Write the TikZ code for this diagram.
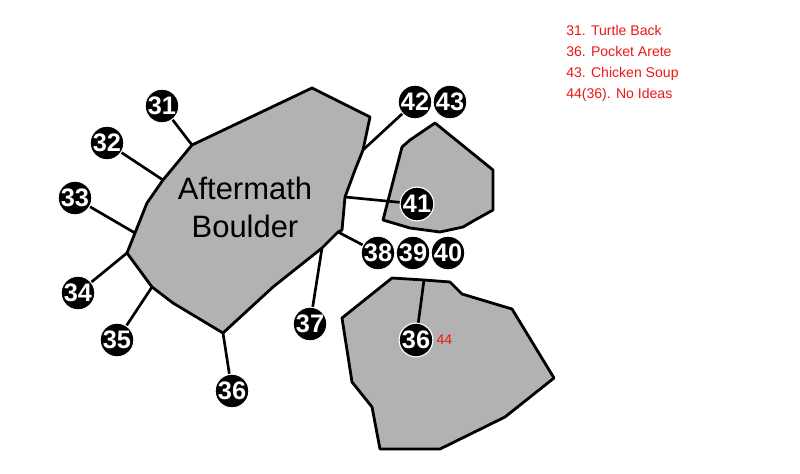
\documentclass[tikz,border=0pt]{standalone}
\usepackage{fontspec}
\setmainfont{Liberation Sans}
\usetikzlibrary{positioning}
\definecolor{rockgray}{RGB}{178,178,178}
\definecolor{notered}{RGB}{238,22,22}

\begin{document}
\begin{tikzpicture}[x=0.025cm, y=-0.025cm,
    rock/.style={draw=black, fill=rockgray, line width=2pt, line join=round},
    link/.style={draw=black, line width=1.9pt},
    prob/.style={circle, draw=white, line width=0.8pt, fill=black, text=white, inner sep=0pt, minimum size=24pt, font=\fontsize{18}{18}\selectfont\bfseries},
    note/.style={text=notered, font=\fontsize{10}{12}\selectfont, anchor=base west, inner sep=0pt}
]
    \useasboundingbox (0,0) rectangle (800,473);

    % Boulders
    \draw[rock] (192,145) coordinate (t31) -- (312,88) -- (370,117) -- (363,150) coordinate (t42)
        -- (355,170) -- (345,197) coordinate (t41) -- (342,230) -- (338,232) coordinate (t38)
        -- (322,248) coordinate (t37) -- (273,287) -- (223,333) coordinate (t36)
        -- (173,303) -- (152,287) coordinate (t35) -- (127,253) coordinate (t34)
        -- (135,233) coordinate (t33) -- (147,203) -- (163,180) coordinate (t32) -- cycle;
    \draw[rock] (435,123) -- (493,170) -- (493,210) -- (475,220) -- (463,227) -- (440,232)
        -- (410,228) -- (383,220) -- (402,147) -- (410,140) -- cycle;
    \draw[rock] (392,278) -- (424,280) coordinate (t36b) -- (450,282) -- (462,294) -- (512,309)
        -- (554,378) -- (505,417) -- (440,449) -- (380,449) -- (372,407) -- (352,382)
        -- (342,318) -- cycle;

    \node[font=\fontsize{22}{27}\selectfont, align=center, inner sep=0pt] (name) at (245,207) {Aftermath\\Boulder};

    % Problems
    \node[prob] (c31) at (162,106) {31};
    \node[prob] (c32) at (107,143) {32};
    \node[prob] (c33) at (75,198) {33};
    \node[prob] (c34) at (78,293) {34};
    \node[prob] (c35) at (117,340) {35};
    \node[prob] (c36) at (232,391) {36};
    \node[prob] (c37) at (310,324) {37};
    \node[prob] (c38) at (378,253) {38};
    \node[prob] (c39) at (413,253) {39};
    \node[prob] (c40) at (448,253) {40};
    \node[prob] (c41) at (417,204) {41};
    \node[prob] (c42) at (415,102) {42};
    \node[prob] (c43) at (450,102) {43};
    \node[prob] (c36b) at (416,340) {36};

    % Lines to the rock
    \draw[link] (c31) -- (t31);
    \draw[link] (c32) -- (t32);
    \draw[link] (c33) -- (t33);
    \draw[link] (c34) -- (t34);
    \draw[link] (c35) -- (t35);
    \draw[link] (c36) -- (t36);
    \draw[link] (c37) -- (t37);
    \draw[link] (c38) -- (t38);
    \draw[link] (c41) -- (t41);
    \draw[link] (c42) -- (t42);
    \draw[link] (c36b) -- (t36b);

    \node[text=notered, font=\fontsize{10}{10}\selectfont, inner sep=0pt, anchor=west, right=2pt of c36b] (n44) {44};

    % Key
    \node[note] (k31) at (566,36) {31. Turtle Back};
    \node[note] (k36) at (566,57) {36. Pocket Arete};
    \node[note] (k43) at (566,78) {43. Chicken Soup};
    \node[note] (k44) at (566,98) {44(36). No Ideas};
\end{tikzpicture}
\end{document}
